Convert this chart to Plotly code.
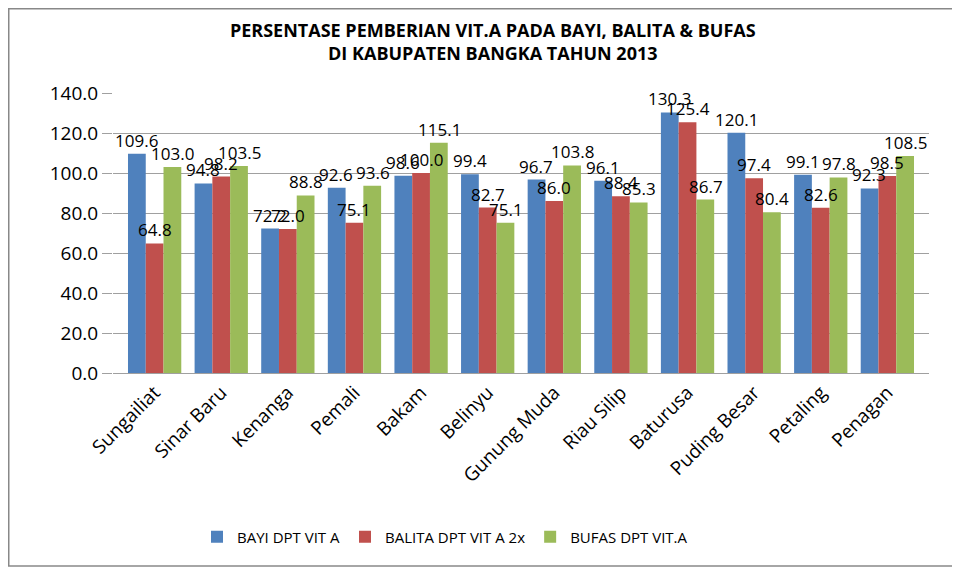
import plotly.graph_objects as go

categories = ["Sungailiat", "Sinar Baru", "Kenanga", "Pemali", "Bakam", "Belinyu",
              "Gunung Muda", "Riau Silip", "Baturusa", "Puding Besar", "Petaling", "Penagan"]
bayi = [109.6, 94.8, 72.2, 92.6, 98.6, 99.4, 96.7, 96.1, 130.3, 120.1, 99.1, 92.3]
balita = [64.8, 98.2, 72.0, 75.1, 100.0, 82.7, 86.0, 88.4, 125.4, 97.4, 82.6, 98.5]
bufas = [103.0, 103.5, 88.8, 93.6, 115.1, 75.1, 103.8, 85.3, 86.7, 80.4, 97.8, 108.5]
series_names = ["BAYI DPT VIT A", "BALITA DPT VIT A 2x", "BUFAS DPT VIT.A"]
colors = ["#4F81BD", "#C0504D", "#9BBB59"]

W, H = 960, 569
L, R, T, B = 105, 39, 85, 204
pw, ph = W - L - R, H - T - B
BARGAP = 0.2
bar_px = pw / len(categories) * (1 - BARGAP) / 3

def px_x(px):
    return (px - L) / pw

def px_y(py):
    return (H - B - py) / ph

fig = go.Figure()
annotations = []
for i, (name, vals, col) in enumerate(zip(series_names, [bayi, balita, bufas], colors)):
    fig.add_trace(go.Bar(
        x=categories, y=vals, name=name, marker=dict(color=col, line=dict(width=0)),
    ))
    for c, v in zip(categories, vals):
        annotations.append(dict(
            x=c, y=v, xref="x", yref="y", text=f"{v:.1f}", showarrow=False,
            yanchor="bottom", xanchor="center", xshift=(i - 1) * bar_px, yshift=0,
            font=dict(size=17, color="black", family="Open Sans"),
        ))

fig.update_layout(
    width=W, height=H,
    margin=dict(l=L, r=R, t=T, b=B),
    paper_bgcolor="white", plot_bgcolor="white",
    barmode="group", bargap=BARGAP, bargroupgap=0.0,
    title=dict(text="<b>PERSENTASE PEMBERIAN VIT.A PADA BAYI, BALITA & BUFAS<br>DI KABUPATEN BANGKA TAHUN 2013</b>",
               x=0.505, xanchor="center", y=1 - 29 / H, yanchor="middle",
               font=dict(size=18, family="Open Sans", color="black")),
    font=dict(family="Open Sans", color="black"),
    xaxis=dict(tickangle=-45, tickfont=dict(size=19, family="Open Sans"), showline=True,
               linecolor="#A0A0A0", linewidth=1, automargin=False),
    yaxis=dict(range=[0, 140], dtick=20, tickformat=".1f", showgrid=True, gridcolor="#A0A0A0",
               gridwidth=1, tickfont=dict(size=19, family="Open Sans"), zeroline=False,
               ticks="outside", ticklen=10, tickcolor="#A0A0A0", automargin=False),
    legend=dict(orientation="h", x=px_x(437), xanchor="center", y=px_y(529), yanchor="middle",
                font=dict(size=15, family="Open Sans"), itemwidth=30),
    annotations=annotations,
    shapes=[
        dict(type="line", xref="paper", yref="paper", x0=px_x(0.75), x1=px_x(0.75),
             y0=px_y(558), y1=px_y(0), line=dict(color="#888888", width=1.5)),
        dict(type="line", xref="paper", yref="paper", x0=px_x(0), x1=px_x(W),
             y0=px_y(558), y1=px_y(558), line=dict(color="#888888", width=1.5)),
        dict(type="line", xref="paper", yref="paper", x0=px_x(0), x1=px_x(W),
             y0=px_y(0.75), y1=px_y(0.75), line=dict(color="#888888", width=1.5)),
    ],
)

fig.write_html("out.html")
